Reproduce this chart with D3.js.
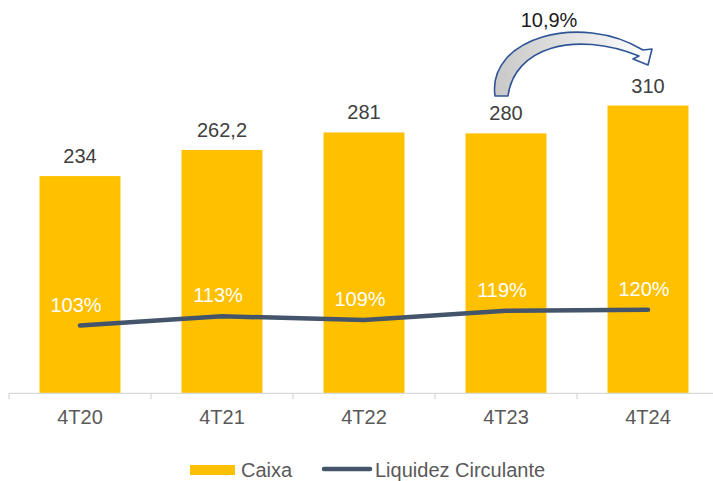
<!DOCTYPE html>
<html>
<head>
<meta charset="utf-8">
<script src="https://cdn.jsdelivr.net/npm/d3@7"></script>
<style>
  html, body { margin: 0; padding: 0; background: #fff; }
  svg { display: block; font-family: "Liberation Sans", Arial, sans-serif; }
</style>
</head>
<body>
<svg id="chart" width="713" height="481"></svg>
<script>
const categories = ["4T20", "4T21", "4T22", "4T23", "4T24"];
const caixa = [234, 262.2, 281, 280, 310];
const caixaLabels = ["234", "262,2", "281", "280", "310"];
const liquidez = [103, 113, 109, 119, 120];
const liquidezLabels = ["103%", "113%", "109%", "119%", "120%"];
const growthLabel = "10,9%";
const legendNames = ["Caixa", "Liquidez Circulante"];

const svg = d3.select("#chart");
const baseY = 393.3, topY = 22;

const x = d3.scaleBand().domain(categories).range([9, 719])
  .paddingInner(0.43).paddingOuter(0.215);
const y = d3.scaleLinear().domain([0, 400]).range([baseY, topY]);
const y2 = d3.scaleLinear().domain([30, 430]).range([baseY, topY]);

// bars
svg.append("g").selectAll("rect").data(caixa).join("rect")
  .attr("x", (d, i) => x(categories[i]))
  .attr("y", d => y(d))
  .attr("width", x.bandwidth())
  .attr("height", d => baseY - y(d))
  .attr("fill", "#FFC000");

// bar labels
svg.append("g").selectAll("text").data(caixa).join("text")
  .attr("x", (d, i) => x(categories[i]) + x.bandwidth() / 2)
  .attr("y", d => y(d) - 13)
  .attr("text-anchor", "middle")
  .attr("font-size", 20)
  .attr("fill", "#404040")
  .text((d, i) => caixaLabels[i]);

// x axis
const axis = d3.axisBottom(x).tickSize(6).tickSizeOuter(0);
const gx = svg.append("g").attr("transform", `translate(0,${baseY})`).call(axis);
gx.select(".domain").attr("stroke", "#d9d9d9").attr("stroke-width", 1.3)
  .attr("d", `M9,0H713`);
gx.selectAll(".tick line").remove();
// boundary ticks between categories
const bounds = d3.range(categories.length + 1).map(i => 9 + i * x.step());
gx.selectAll(".bound").data(bounds).join("line").attr("class", "bound")
  .attr("x1", d => d).attr("x2", d => d).attr("y1", 0).attr("y2", 6)
  .attr("stroke", "#d9d9d9").attr("stroke-width", 1.3);
gx.selectAll(".tick text").attr("font-size", 20).attr("fill", "#595959")
  .attr("font-family", "'Liberation Sans', Arial, sans-serif")
  .attr("dy", 0).attr("y", 31);

// line
const line = d3.line()
  .x((d, i) => x(categories[i]) + x.bandwidth() / 2)
  .y(d => y2(d));
svg.append("path").datum(liquidez)
  .attr("d", line)
  .attr("fill", "none")
  .attr("stroke", "#44546A")
  .attr("stroke-width", 4.5)
  .attr("stroke-linecap", "round")
  .attr("stroke-linejoin", "round");

// line labels
svg.append("g").selectAll("text").data(liquidez).join("text")
  .attr("x", (d, i) => x(categories[i]) + x.bandwidth() / 2 - 4)
  .attr("y", d => y2(d) - 14)
  .attr("text-anchor", "middle")
  .attr("font-size", 20)
  .attr("fill", "#ffffff")
  .text((d, i) => liquidezLabels[i]);

// growth arrow annotation
const defs = svg.append("defs");
const grad = defs.append("linearGradient").attr("id", "arrowGrad")
  .attr("x1", "0").attr("y1", "0").attr("x2", "1").attr("y2", "0");
grad.append("stop").attr("offset", "0%").attr("stop-color", "#c8c8c8");
grad.append("stop").attr("offset", "100%").attr("stop-color", "#ffffff");

const ax0 = x(categories[3]) + x.bandwidth() / 2;   // 4T23 center
svg.append("path")
  .attr("transform", `translate(${ax0 - 506},0)`)
  .attr("d", "M495,96 C487,38 580,12 643,50 L652,49 L648,65 L633,59 L639,56 C574,30 514,48 508,96 Z")
  .attr("fill", "url(#arrowGrad)")
  .attr("stroke", "#2F5597")
  .attr("stroke-width", 1.6)
  .attr("stroke-linejoin", "round");

svg.append("text")
  .attr("x", 549).attr("y", 27)
  .attr("text-anchor", "middle")
  .attr("font-size", 20)
  .attr("fill", "#1a1a1a")
  .text(growthLabel);

// legend
const lg = svg.append("g");
lg.append("rect").attr("x", 190).attr("y", 465).attr("width", 45).attr("height", 10)
  .attr("fill", "#FFC000");
lg.append("text").attr("x", 241).attr("y", 477).attr("font-size", 20)
  .attr("fill", "#595959").text(legendNames[0]);
lg.append("line").attr("x1", 324).attr("x2", 370).attr("y1", 469).attr("y2", 469)
  .attr("stroke", "#44546A").attr("stroke-width", 4.5).attr("stroke-linecap", "round");
lg.append("text").attr("x", 375).attr("y", 477).attr("font-size", 20)
  .attr("fill", "#595959").text(legendNames[1]);
</script>
</body>
</html>
